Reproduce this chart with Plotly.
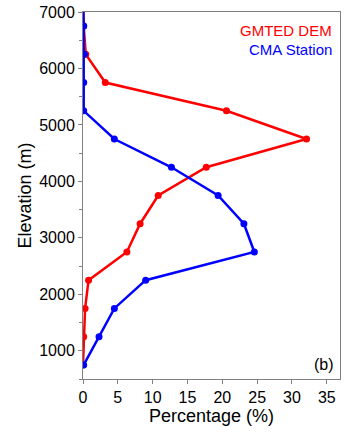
import plotly.graph_objects as go

elevation = [750, 1250, 1750, 2250, 2750, 3250, 3750, 4250, 4750, 5250, 5750, 6250, 6750, 7250]
gmted_dem = [0.0, 0.1, 0.3, 0.8, 6.3, 8.2, 10.8, 17.7, 32.1, 20.6, 3.2, 0.4, 0.1, 0.0]
cma_station = [0.1, 2.3, 4.5, 9.0, 24.6, 23.1, 19.4, 12.7, 4.5, 0.1, 0.1, 0.2, 0.1, 0.0]

x_ticks = [0, 5, 10, 15, 20, 25, 30, 35]
y_ticks = [1000, 2000, 3000, 4000, 5000, 6000, 7000]

fig = go.Figure()
fig.add_trace(go.Scatter(x=gmted_dem, y=elevation, mode="lines+markers", name="GMTED DEM",
                         line=dict(color="#ff0000", width=2.5), marker=dict(color="#ff0000", size=7)))
fig.add_trace(go.Scatter(x=cma_station, y=elevation, mode="lines+markers", name="CMA Station",
                         line=dict(color="#0000ff", width=2.5), marker=dict(color="#0000ff", size=7)))

axis_common = dict(showline=True, linecolor="#808080", linewidth=1, mirror=True, automargin=False,
                   ticks="outside", tickcolor="#808080", ticklen=4, showgrid=False, zeroline=False,
                   tickfont=dict(family="Liberation Sans, Arial", size=16, color="black"))

fig.update_xaxes(range=[0, 36.9], tickvals=x_ticks,
                 title=dict(text="Percentage (%)", font=dict(family="Liberation Sans, Arial", size=18, color="black"), standoff=4),
                 **axis_common)
fig.update_yaxes(range=[500, 7000], tickvals=y_ticks,
                 minor=dict(dtick=500, tick0=500, ticks="outside", ticklen=3, tickcolor="#808080"),
                 title=dict(text="Elevation (m)", font=dict(family="Liberation Sans, Arial", size=18, color="black"), standoff=2),
                 **axis_common)

fig.add_annotation(x=1, y=1, xref="paper", yref="paper", xanchor="right", yanchor="top",
                   xshift=-6, yshift=-8, text="GMTED DEM", showarrow=False,
                   font=dict(family="Liberation Sans, Arial", size=15, color="#ff0000"))
fig.add_annotation(x=1, y=1, xref="paper", yref="paper", xanchor="right", yanchor="top",
                   xshift=-6, yshift=-27, text="CMA Station", showarrow=False,
                   font=dict(family="Liberation Sans, Arial", size=15, color="#0000ff"))
fig.add_annotation(x=1, y=0, xref="paper", yref="paper", xanchor="right", yanchor="bottom",
                   xshift=-4, yshift=4, text="(b)", showarrow=False,
                   font=dict(family="Liberation Sans, Arial", size=16, color="black"))

fig.update_layout(width=349, height=435, margin=dict(l=83, r=9, t=12, b=56),
                  plot_bgcolor="white", paper_bgcolor="white", showlegend=False)

fig.write_html("out.html", config={"displayModeBar": False},
               post_script="document.body.style.margin='0px';")
